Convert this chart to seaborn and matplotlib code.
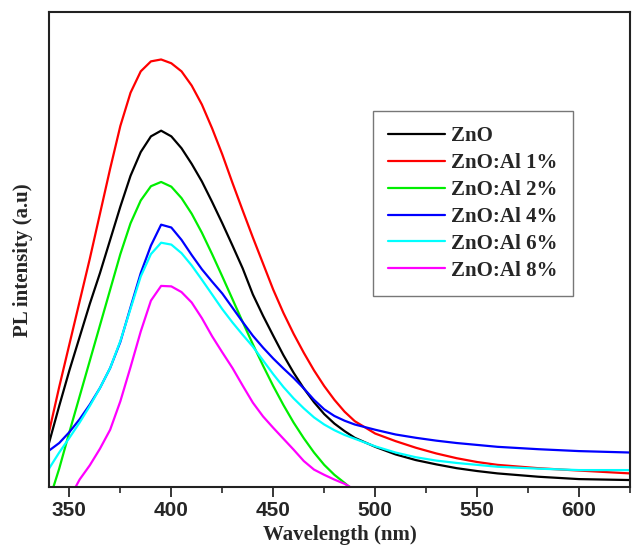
import numpy as np
import pandas as pd
import matplotlib
matplotlib.use("Agg")
import matplotlib.pyplot as plt
import seaborn as sns
from matplotlib.ticker import MultipleLocator

nan = np.nan
wavelength = [340, 345, 350, 355, 360, 365, 370, 375, 380, 385, 390, 395, 400, 405,
              410, 415, 420, 425, 430, 435, 440, 445, 450, 455, 460, 465, 470, 475,
              480, 485, 490, 500, 510, 520, 530, 540, 550, 560, 580, 600, 625]

zno = [9.2, 17, 24.5, 31.5, 38.5, 45, 52, 59, 65.5, 70.5, 73.8, 75, 73.8, 71.3,
       68, 64.3, 60, 55.5, 50.8, 46, 40.5, 36, 31.8, 27.7, 24, 20.7, 17.8, 15.3,
       13.3, 11.7, 10.3, 8.4, 6.8, 5.6, 4.7, 3.9, 3.3, 2.8, 2.1, 1.6, 1.4]
al1 = [11.5, 21, 30, 39, 48, 57.5, 67, 76, 83, 87.5, 89.6, 90, 89.2, 87.5,
       84.5, 80.5, 75.5, 70, 64, 58.2, 52.5, 47, 41.5, 36.6, 32.2, 28.2, 24.5, 21.2,
       18.3, 15.8, 13.8, 11.2, 9.6, 8.2, 7.0, 6.0, 5.2, 4.6, 3.9, 3.4, 2.8]
al2 = [-3, 3.8, 11.5, 19, 26.5, 34, 41.5, 49, 55.5, 60.3, 63.3, 64.2, 63.2, 60.8,
       57.5, 53.5, 49, 44.3, 39.5, 34.7, 30, 25.5, 21.2, 17.2, 13.5, 10.2, 7.2, 4.6,
       2.5, 0.8, -1, nan, nan, nan, nan, nan, nan, nan, nan, nan, nan]
al4 = [7.6, 9.2, 11.5, 14.2, 17.3, 20.8, 25, 30.5, 37.8, 45, 50.8, 55.2, 54.6, 52,
       48.8, 45.8, 43.2, 40.7, 37.7, 34.7, 31.8, 29.3, 27, 24.9, 22.9, 20.7, 18.3, 16.3,
       14.9, 13.9, 13.1, 12, 11, 10.3, 9.7, 9.2, 8.8, 8.4, 7.9, 7.5, 7.2]
al6 = [3.8, 7.2, 10.3, 13.5, 17, 20.8, 25, 30.7, 37.5, 44.3, 49, 51.4, 51, 49.2,
       46.6, 43.6, 40.5, 37.4, 34.6, 32, 29.5, 26.6, 23.7, 21, 18.6, 16.5, 14.6, 13.1,
       11.9, 10.9, 10.1, 8.5, 7.2, 6.2, 5.5, 5, 4.6, 4.2, 3.8, 3.5, 3.5]
al8 = [nan, -6, -2.5, 1.5, 4.5, 8, 12, 18, 25.2, 32.7, 39.2, 42.3, 42.2, 41,
       38.8, 35.5, 31.7, 28.3, 25, 21.3, 17.7, 14.8, 12.4, 10.1, 7.8, 5.4, 3.6, 2.5,
       1.5, 0.6, -0.6, nan, nan, nan, nan, nan, nan, nan, nan, nan, nan]

labels = ["ZnO", "ZnO:Al 1%", "ZnO:Al 2%", "ZnO:Al 4%", "ZnO:Al 6%", "ZnO:Al 8%"]
series = [zno, al1, al2, al4, al6, al8]
colors = ["#000000", "#ff0000", "#00ee00", "#0000ff", "#00ffff", "#ff00ff"]
xticks = [350, 400, 450, 500, 550, 600]

frames = []
for lab, vals in zip(labels, series):
    frames.append(pd.DataFrame({"Wavelength": wavelength, "PL": vals, "Sample": lab}))
df = pd.concat(frames, ignore_index=True).dropna()

sns.set_theme(style="white")
plt.rcParams["font.family"] = ["Liberation Serif", "DejaVu Serif"]

fig = plt.figure(figsize=(6.33, 5.49), dpi=100)
ax = fig.add_axes([49 / 633, 1 - 486.7 / 549, (630 - 49) / 633, (486.7 - 12) / 549])

sns.lineplot(data=df, x="Wavelength", y="PL", hue="Sample", hue_order=labels,
             palette=colors, linewidth=1.6, ax=ax, sort=False, estimator=None)

ax.set_xlim(340, 625)
ax.set_ylim(0, 100)
ax.set_yticks([])
ax.set_xticks(xticks)
ax.xaxis.set_minor_locator(MultipleLocator(25))
ax.tick_params(axis="x", which="major", direction="out", length=7, width=1.3,
               bottom=True, pad=3)
ax.tick_params(axis="x", which="minor", direction="out", length=4, width=1.2,
               bottom=True)
for lbl in ax.get_xticklabels():
    lbl.set_fontfamily(["Liberation Sans Narrow", "Liberation Sans", "DejaVu Sans"])
    lbl.set_fontweight("bold")
    lbl.set_fontsize(15)

for sp in ax.spines.values():
    sp.set_color("#222222")
    sp.set_linewidth(1.5)

ax.set_xlabel("Wavelength (nm)", fontsize=15, fontweight="bold", labelpad=4)
ax.set_ylabel("PL intensity (a.u)", fontsize=15, fontweight="bold")
ax.yaxis.set_label_coords(-0.027, 0.478)

leg = ax.legend(loc="upper left", bbox_to_anchor=(0.557, 0.791), frameon=True,
                fancybox=False, prop={"weight": "bold", "size": 15},
                handlelength=2.75, handletextpad=0.3, labelspacing=0.33,
                borderpad=0.72, borderaxespad=0)
leg.get_frame().set_edgecolor("#555555")
leg.get_frame().set_linewidth(1.0)
for h in leg.get_lines():
    h.set_linewidth(1.6)

fig.savefig("out.png", dpi=100)
